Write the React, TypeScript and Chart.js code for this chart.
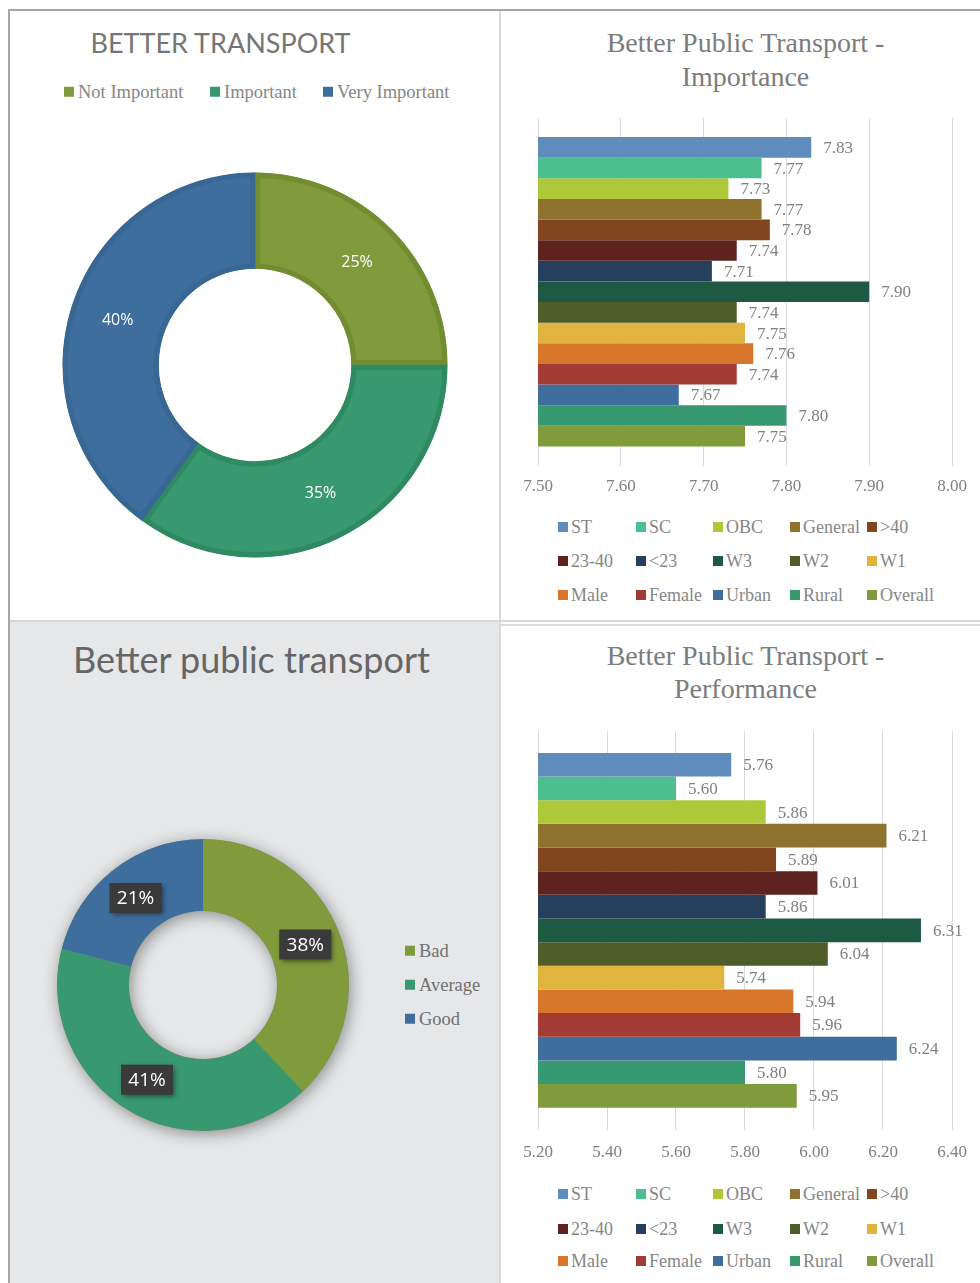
import React, { useEffect, useRef } from "react";
import { Chart, registerables } from "chart.js";
Chart.register(...registerables);

// ---------- data ----------
const transportLabels = ["Not Important", "Important", "Very Important"];
const transportValues = [25, 35, 40];
const transportColors = ["#809b3b", "#389870", "#3e6e9e"];
const transportBorderColors = ["#728c31", "#2f8a62", "#386794"];

const publicLabels = ["Bad", "Average", "Good"];
const publicValues = [38, 41, 21];
const publicColors = ["#809b3b", "#389870", "#3e6e9e"];

const groupLabels = ["ST", "SC", "OBC", "General", ">40", "23-40", "<23", "W3", "W2", "W1", "Male", "Female", "Urban", "Rural", "Overall"];
const groupColors = ["#5f8bbd", "#4dbe8e", "#adc93a", "#8e722d", "#81461f", "#5e221f", "#263f5d", "#1e5a43", "#4e5d29", "#e0b43e", "#d8762b", "#a23b34", "#3f6e9e", "#389870", "#809b3b"];
const importanceValues = [7.83, 7.77, 7.73, 7.77, 7.78, 7.74, 7.71, 7.9, 7.74, 7.75, 7.76, 7.74, 7.67, 7.8, 7.75];
const performanceValues = [5.76, 5.6, 5.86, 6.21, 5.89, 6.01, 5.86, 6.31, 6.04, 5.74, 5.94, 5.96, 6.24, 5.8, 5.95];
const importanceTicks = [7.5, 7.6, 7.7, 7.8, 7.9, 8.0];
const performanceTicks = [5.2, 5.4, 5.6, 5.8, 6.0, 6.2, 6.4];

// ---------- styles ----------
const SERIF = '"Liberation Serif", "DejaVu Serif", serif';
const SANS = 'Lato, "Open Sans", sans-serif';
const LABEL_SANS = '"Open Sans", sans-serif';
const SERIF_GREY = "#868686";

function Box(props: { x: number; y: number; w: number; h: number; bg: string }) {
  return <div style={{ position: "absolute", left: props.x, top: props.y, width: props.w, height: props.h, background: props.bg }} />;
}

function Text(props: { cx: number; cy: number; size: number; family: string; color: string; children: any }) {
  return (
    <div
      style={{
        position: "absolute",
        left: props.cx,
        top: props.cy,
        transform: "translate(-50%, -50%)",
        fontSize: props.size,
        fontFamily: props.family,
        color: props.color,
        lineHeight: 1,
        whiteSpace: "nowrap",
      }}
    >
      {props.children}
    </div>
  );
}

function LegendItem(props: { x: number; cy: number; color: string; label: string; size: number; textColor: string; gap?: number }) {
  return (
    <div
      style={{
        position: "absolute",
        left: props.x,
        top: props.cy,
        transform: "translateY(-50%)",
        display: "flex",
        alignItems: "center",
        whiteSpace: "nowrap",
        fontFamily: SERIF,
        fontSize: props.size,
        color: props.textColor,
        lineHeight: 1,
      }}
    >
      <span style={{ display: "inline-block", width: 10, height: 10, background: props.color, marginRight: props.gap ?? 4 }} />
      <span>{props.label}</span>
    </div>
  );
}

// ---------- charts ----------
function TransportDonut() {
  const ref = useRef<HTMLCanvasElement>(null);
  useEffect(() => {
    const labelPlugin = {
      id: "pctLabels",
      afterDatasetsDraw(chart: any) {
        const ctx = chart.ctx;
        const meta = chart.getDatasetMeta(0);
        ctx.save();
        ctx.font = `16px ${LABEL_SANS}`;
        ctx.fillStyle = "#ffffff";
        ctx.textAlign = "center";
        ctx.textBaseline = "middle";
        meta.data.forEach((arc: any, i: number) => {
          const p = arc.tooltipPosition();
          ctx.fillText(`${transportValues[i]}%`, p.x, p.y);
        });
        ctx.restore();
      },
    };
    const chart = new Chart(ref.current!, {
      type: "doughnut",
      data: {
        labels: transportLabels,
        datasets: [
          {
            data: transportValues,
            backgroundColor: transportColors,
            borderColor: transportBorderColors,
            borderWidth: 5,
            borderAlign: "inner",
          } as any,
        ],
      },
      options: {
        responsive: false,
        animation: false,
        radius: 192.5,
        cutout: "50%",
        events: [],
        plugins: { legend: { display: false }, tooltip: { enabled: false } },
      } as any,
      plugins: [labelPlugin],
    });
    return () => chart.destroy();
  }, []);
  return <canvas ref={ref} width={430} height={430} style={{ position: "absolute", left: 40, top: 150 }} />;
}

function PublicDonut() {
  const ref = useRef<HTMLCanvasElement>(null);
  useEffect(() => {
    const shadowPlugin = {
      id: "ringShadow",
      beforeDatasetsDraw(chart: any) {
        const ctx = chart.ctx;
        const arc = chart.getDatasetMeta(0).data[0];
        if (!arc) return;
        const { x, y, innerRadius, outerRadius } = arc;
        ctx.save();
        ctx.shadowColor = "rgba(0,0,0,0.4)";
        ctx.shadowBlur = 16;
        ctx.shadowOffsetX = 2;
        ctx.shadowOffsetY = 3;
        ctx.beginPath();
        ctx.arc(x, y, outerRadius, 0, Math.PI * 2);
        ctx.arc(x, y, innerRadius, 0, Math.PI * 2, true);
        ctx.fillStyle = "#7a8a6a";
        ctx.fill();
        ctx.restore();
      },
      afterDatasetsDraw(chart: any) {
        const ctx = chart.ctx;
        const meta = chart.getDatasetMeta(0);
        meta.data.forEach((arc: any, i: number) => {
          const p = arc.tooltipPosition();
          ctx.save();
          ctx.shadowColor = "rgba(0,0,0,0.45)";
          ctx.shadowBlur = 5;
          ctx.shadowOffsetX = 2;
          ctx.shadowOffsetY = 2;
          ctx.fillStyle = "#3a3a3a";
          ctx.fillRect(p.x - 26, p.y - 15, 52, 30);
          ctx.restore();
          ctx.save();
          ctx.font = `19px ${LABEL_SANS}`;
          ctx.fillStyle = "#ffffff";
          ctx.textAlign = "center";
          ctx.textBaseline = "middle";
          ctx.fillText(`${publicValues[i]}%`, p.x, p.y + 1);
          ctx.restore();
        });
      },
    };
    const chart = new Chart(ref.current!, {
      type: "doughnut",
      data: {
        labels: publicLabels,
        datasets: [
          {
            data: publicValues,
            backgroundColor: publicColors,
            borderWidth: 0,
            borderAlign: "inner",
          } as any,
        ],
      },
      options: {
        responsive: false,
        animation: false,
        radius: 146,
        cutout: "50.7%",
        events: [],
        plugins: { legend: { display: false }, tooltip: { enabled: false } },
      } as any,
      plugins: [shadowPlugin],
    });
    return () => chart.destroy();
  }, []);
  return <canvas ref={ref} width={340} height={340} style={{ position: "absolute", left: 33, top: 815 }} />;
}

function GroupBars(props: { values: number[]; ticks: number[]; top: number; height: number; tickPad: number }) {
  const ref = useRef<HTMLCanvasElement>(null);
  useEffect(() => {
    const { values, ticks } = props;
    const valuePlugin = {
      id: "valueLabels",
      afterDatasetsDraw(chart: any) {
        const ctx = chart.ctx;
        ctx.save();
        ctx.font = `17px ${SERIF}`;
        ctx.fillStyle = "#808080";
        ctx.textAlign = "left";
        ctx.textBaseline = "middle";
        chart.data.datasets.forEach((ds: any, i: number) => {
          const meta = chart.getDatasetMeta(i);
          meta.data.forEach((el: any, j: number) => {
            ctx.fillText(Number(ds.data[j]).toFixed(2), el.x + 12, el.y + 1);
          });
        });
        ctx.restore();
      },
    };
    const chart = new Chart(ref.current!, {
      type: "bar",
      data: {
        labels: [""],
        datasets: groupLabels.map((label, i) => ({
          label,
          data: [values[i]],
          backgroundColor: groupColors[i],
          borderWidth: 0,
          barPercentage: 1,
          categoryPercentage: 0.89,
        })),
      },
      options: {
        indexAxis: "y",
        responsive: false,
        animation: false,
        events: [],
        layout: { padding: { left: 38, right: 28, top: 18, bottom: 0 } },
        plugins: { legend: { display: false }, tooltip: { enabled: false } },
        scales: {
          y: { display: false },
          x: {
            min: ticks[0],
            max: ticks[ticks.length - 1],
            afterBuildTicks: (scale: any) => {
              scale.ticks = ticks.map((v) => ({ value: v }));
            },
            ticks: {
              callback: (v: any) => Number(v).toFixed(2),
              font: { family: SERIF, size: 17 },
              color: "#808080",
              padding: props.tickPad,
              maxRotation: 0,
            },
            grid: { color: "#d9d9d9", drawTicks: false, lineWidth: 1 },
            border: { display: false },
          },
        },
      } as any,
      plugins: [valuePlugin],
    });
    return () => chart.destroy();
  }, []);
  return <canvas ref={ref} width={480} height={props.height} style={{ position: "absolute", left: 500, top: props.top }} />;
}

function GroupLegend(props: { rows: number[] }) {
  const cols = [558, 636, 713, 790, 867];
  return (
    <>
      {groupLabels.map((label, i) => (
        <LegendItem
          key={label}
          x={cols[i % 5]}
          cy={props.rows[Math.floor(i / 5)]}
          color={groupColors[i]}
          label={label}
          size={18}
          textColor={SERIF_GREY}
          gap={3}
        />
      ))}
    </>
  );
}

export default function App() {
  const transportLegendX = [64, 210, 323];
  const publicLegendY = [951, 985, 1019];
  return (
    <div style={{ position: "absolute", left: 0, top: 0, width: 980, height: 1283, overflow: "hidden", background: "#ffffff" }}>
      {/* frame */}
      <Box x={8} y={9} w={972} h={2} bg="#a6a6a6" />
      <Box x={8} y={9} w={2} h={1274} bg="#a6a6a6" />
      <Box x={499} y={11} w={2} h={1272} bg="#dadada" />
      <Box x={10} y={620} w={970} h={2} bg="#d6d6d6" />
      <Box x={10} y={622} w={489} h={661} bg="#e6e7e9" />
      <Box x={501} y={624} w={479} h={2} bg="#dcdcdc" />

      {/* top-left */}
      <Text cx={220.5} cy={42} size={27} family={SANS} color="#767676">BETTER TRANSPORT</Text>
      {transportLabels.map((l, i) => (
        <LegendItem key={l} x={transportLegendX[i]} cy={91.5} color={transportColors[i]} label={l} size={18.5} textColor={SERIF_GREY} />
      ))}
      <TransportDonut />

      {/* top-right */}
      <Text cx={745.5} cy={42.5} size={28} family={SERIF} color="#7c7c7c">Better Public Transport -</Text>
      <Text cx={745.5} cy={76.5} size={28} family={SERIF} color="#7c7c7c">Importance</Text>
      <GroupBars values={importanceValues} ticks={importanceTicks} top={100} height={408} tickPad={11} />
      <GroupLegend rows={[526.5, 561, 595]} />

      {/* bottom-left */}
      <Text cx={251.5} cy={659} size={36} family={SANS} color="#666666">Better public transport</Text>
      <PublicDonut />
      {publicLabels.map((l, i) => (
        <LegendItem key={l} x={405} cy={publicLegendY[i]} color={publicColors[i]} label={l} size={18.5} textColor="#707070" />
      ))}

      {/* bottom-right */}
      <Text cx={745.5} cy={656} size={28} family={SERIF} color="#7c7c7c">Better Public Transport -</Text>
      <Text cx={745.5} cy={689} size={28} family={SERIF} color="#7c7c7c">Performance</Text>
      <GroupBars values={performanceValues} ticks={performanceTicks} top={713} height={463} tickPad={13} />
      <GroupLegend rows={[1194, 1228.5, 1261]} />
    </div>
  );
}
